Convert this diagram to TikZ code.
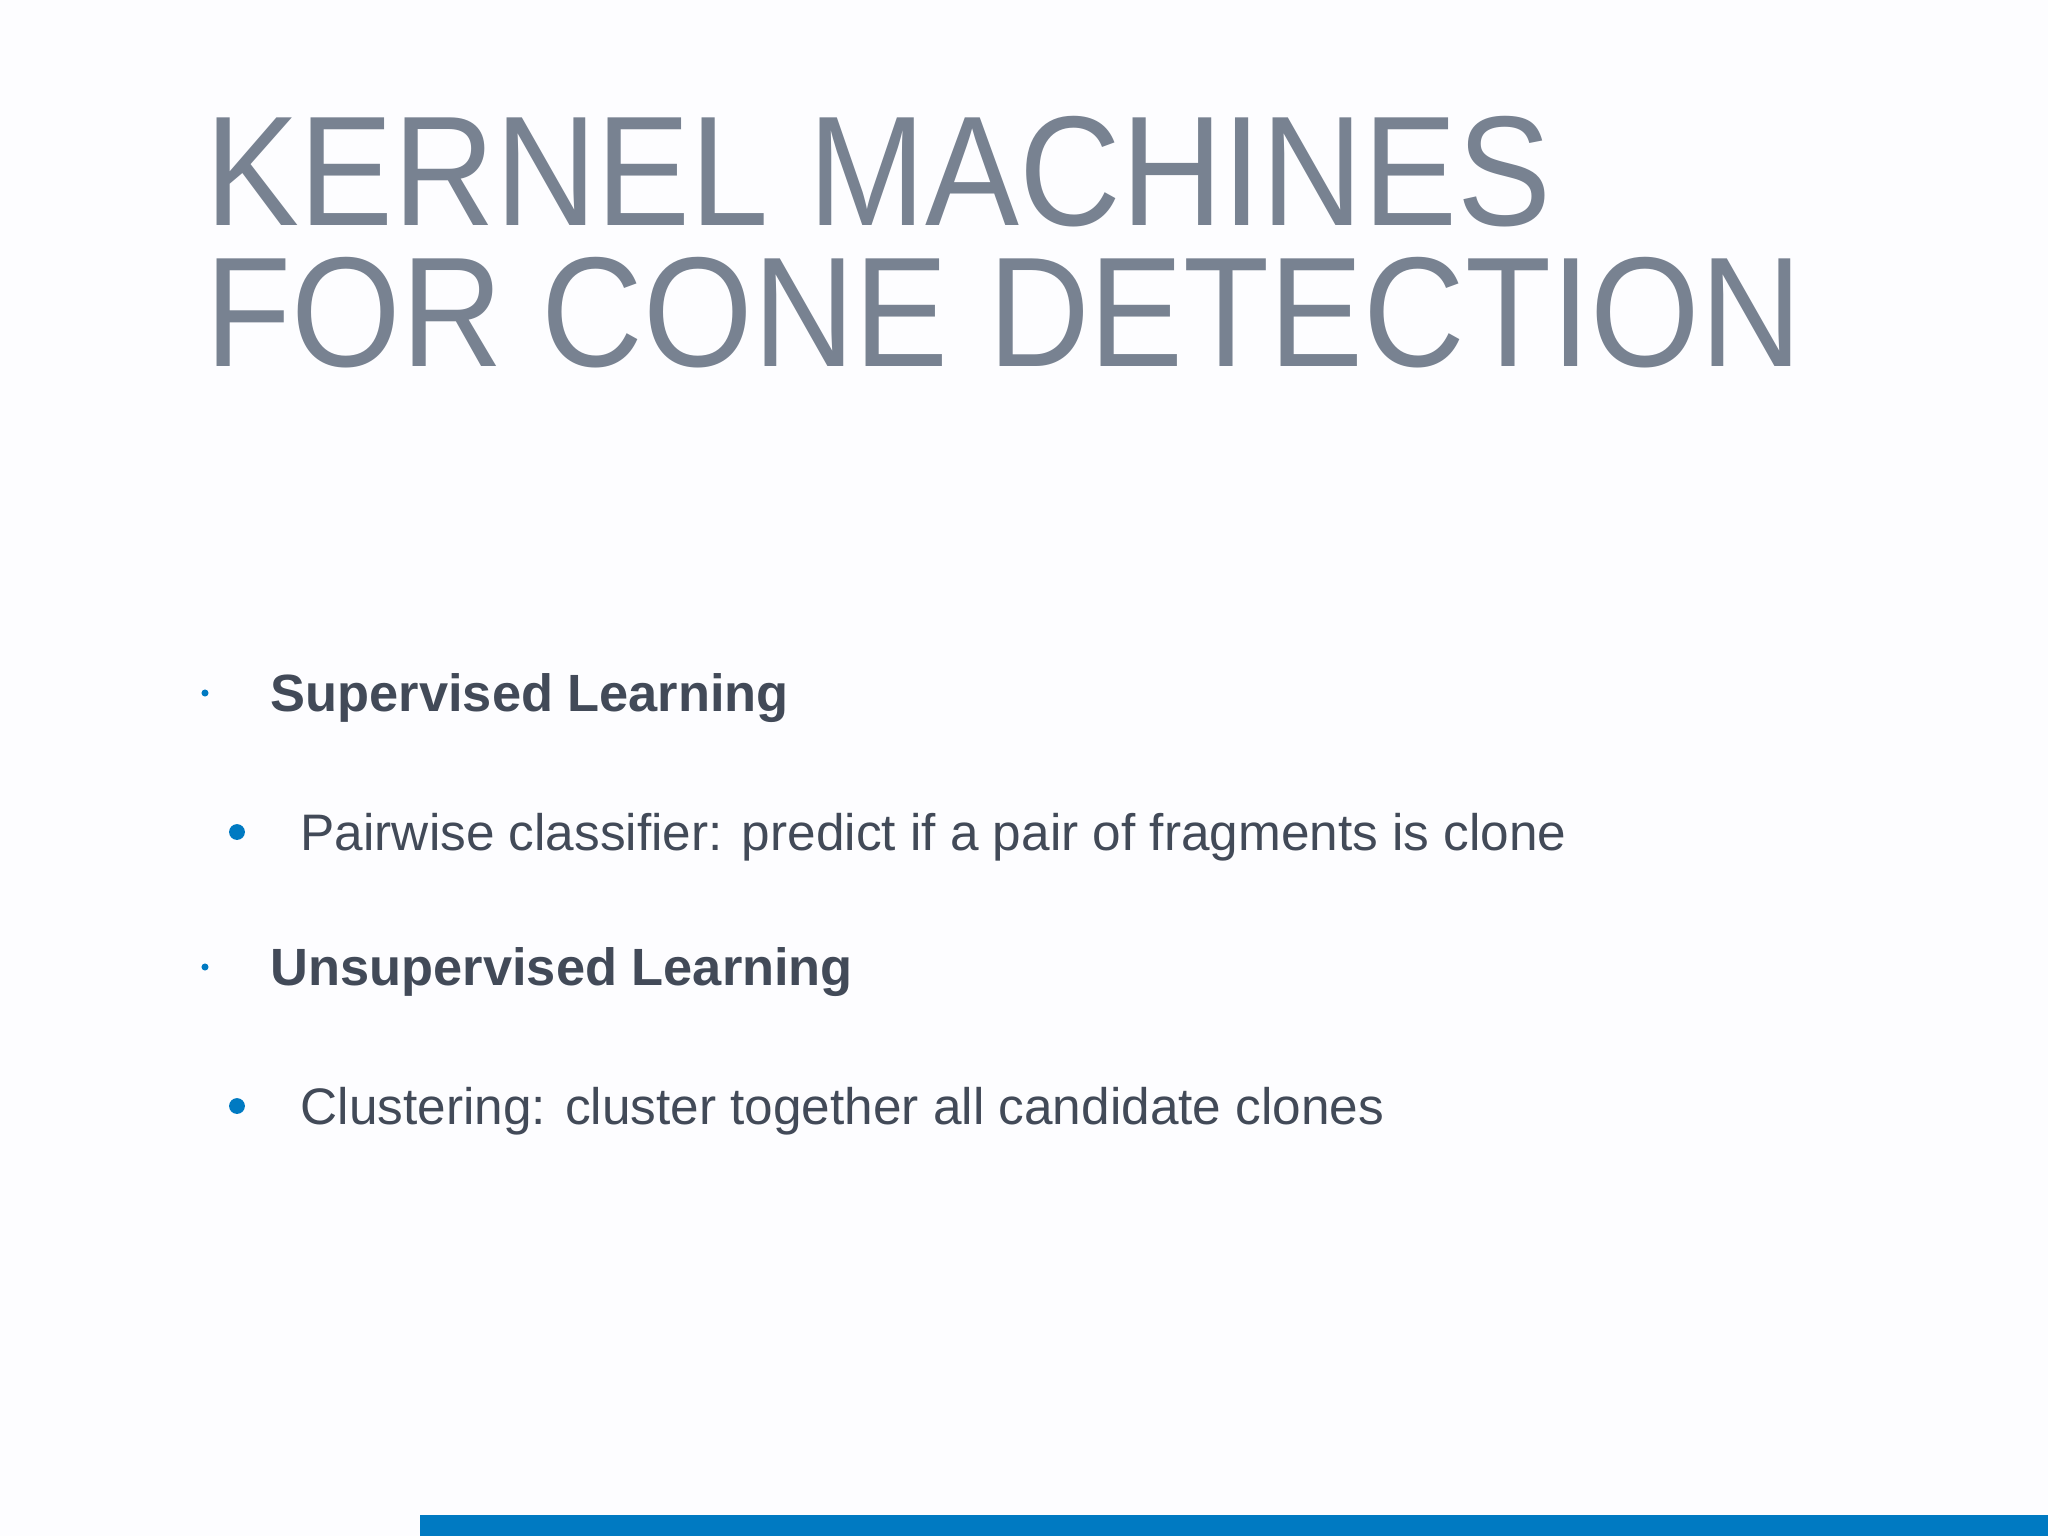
\documentclass[tikz,border=0pt]{standalone}
\usepackage{fontspec}
\setmainfont{Liberation Sans}
\definecolor{titlec}{RGB}{120,130,145}
\definecolor{textc}{RGB}{66,74,88}
\definecolor{bluec}{RGB}{0,122,194}
\begin{document}
\begin{tikzpicture}[x=0.01cm,y=-0.01cm,
  title/.style={anchor=base west,inner sep=0,text=titlec,xscale=0.9,font=\fontsize{44.5}{48}\selectfont},
  head/.style={anchor=base west,inner sep=0,text=textc,font=\bfseries\fontsize{14.9}{18}\selectfont},
  sub/.style={anchor=base west,inner sep=0,text=textc,font=\fontsize{14.6}{18}\selectfont},
  dot/.style={circle,fill=bluec,inner sep=0}]
\fill[white!97!blue!20!white] (0,0) rectangle (2048,1536);
\useasboundingbox (0,0) rectangle (2048,1536);
\node[title] (t1) at (205,225) {KERNEL MACHINES};
\node[title] (t2) at (205,366) {FOR CONE DETECTION};
\node[dot,minimum size=2pt] (d1) at (205,693) {};
\node[head] (h1) at (270,711) {Supervised Learning};
\node[dot,minimum size=4.5pt] (d2) at (237,832) {};
\node[sub] (s1) at (300,850) {Pairwise classifier: predict if a pair of fragments is clone};
\node[dot,minimum size=2pt] (d3) at (205,967) {};
\node[head] (h2) at (270,985) {Unsupervised Learning};
\node[dot,minimum size=4.5pt] (d4) at (237,1106) {};
\node[sub] (s2) at (300,1124) {Clustering: cluster together all candidate clones};
\fill[bluec] (420,1515) rectangle (2048,1536);
\end{tikzpicture}
\end{document}
